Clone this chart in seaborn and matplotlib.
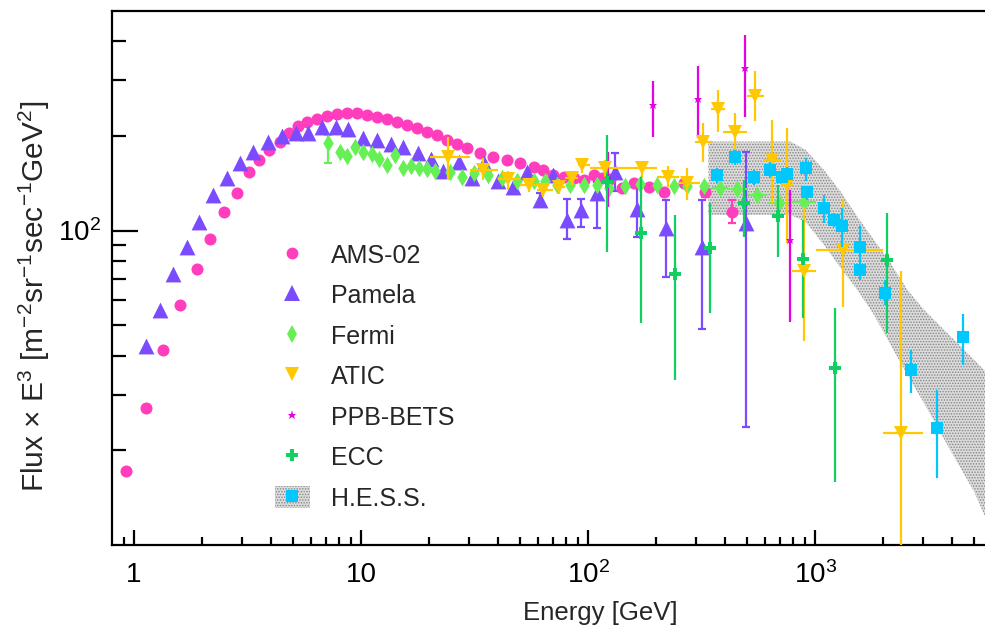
import numpy as np
import matplotlib
matplotlib.use("Agg")
import matplotlib.pyplot as plt
import seaborn as sns
from matplotlib.lines import Line2D
from matplotlib.patches import Patch

# ---------------- data (Energy [GeV], Flux x E^3) ----------------
ams_E = [0.92, 1.135, 1.343, 1.592, 1.887, 2.16, 2.50, 2.84, 3.22, 3.56,
         3.94, 4.39, 4.83, 5.29, 5.76, 6.38, 7.06, 7.81, 8.70, 9.57,
         10.6, 11.7, 13.0, 14.4, 15.9, 17.6, 19.5, 21.6, 23.9, 26.5,
         29.2, 33.5, 38.3, 43.9, 50.2, 57.5, 63.6, 70.4, 78.0, 86.3,
         95.5, 105.8, 115.2, 125.3, 141.1, 158.7, 184.9, 216.8, 263.8, 328.6,
         430.7]
ams_V = [17.2, 27.3, 41.8, 58.0, 75.4, 94.3, 114.4, 131.5, 154, 167.4,
         180.9, 191.8, 204.0, 215.2, 221.1, 227, 231.6, 234.4, 237.1, 236,
         232.7, 229.4, 226, 221.6, 217.3, 212.1, 205.9, 201.4, 194.1, 188.5,
         182.8, 176.2, 171.8, 167.8, 163.7, 159.7, 156.0, 150.3, 148.4, 146.7,
         144.9, 150.3, 146.7, 145.7, 136.4, 142.1, 138.0, 133.0, 141.5, 132.1,
         114.9]
ams_hi = list(ams_V[:-2]) + [137.0, 125.2]
ams_lo = list(ams_V[:-2]) + [127.4, 105.6]

pam_E = [1.127, 1.30, 1.487, 1.704, 1.936, 2.233, 2.557, 2.927, 3.35, 3.90,
         4.47, 5.17, 5.86, 6.71, 7.76, 8.79, 10.25, 11.73, 13.56, 15.37,
         17.89, 20.4, 23.07, 27.1, 30.8, 34.8, 40.3, 46.9, 53.8, 61.5,
         70.4, 80.7, 93.3, 109.5, 131.8, 164.8, 221, 318.6, 496]
pam_V = [42.8, 56.0, 72.8, 88.9, 106.8, 129.9, 146.7, 164.5, 178.3, 191.8,
         200.4, 204.0, 204.0, 214.1, 214.1, 210.5, 196.7, 194.3, 188.6, 184.9,
         177.0, 168.2, 155.1, 165.7, 146.7, 164.5, 143.2, 138.0, 154, 125.2,
         150.3, 108.1, 116.4, 131.5, 153.7, 117.2, 101.8, 88.9, 105.6]
pam_hi = list(pam_V[:29]) + [131.6, 150.3, 126.1, 126.1, 143.1, 176.6, 139.8, 125.2, 125.2, 178.3]
pam_lo = list(pam_V[:29]) + [120.5, 150.3, 94.1, 102.8, 102.0, 134.0, 95.7, 71.3, 48.6, 23.8]

fermi_E = [7.18, 8.08, 8.70, 9.41, 10.24, 11.15, 12.04, 13.06, 14.12, 15.27,
           16.57, 18.07, 19.6, 21.2, 24.7, 27.8, 31.3, 36.4, 41.7, 48.6,
           57.5, 64.8, 72.9, 83.5, 95.5, 109.5, 123.1, 145.8, 169.8, 201.3,
           238.4, 273, 323, 382.8, 453, 555, 692, 891]
fermi_V = [190.4, 178.3, 172.8, 184.9, 178.3, 175.4, 168.6, 161.8, 173.2, 157.9,
           159.8, 157.9, 156.7, 155.1, 154.0, 148.4, 152.2, 150.3, 146.7, 143.2,
           143.2, 143.2, 139.7, 139.7, 139.7, 139.7, 136.4, 138.7, 140.8, 139.7,
           138.7, 138.7, 138.7, 136.4, 135.4, 129.9, 122.2, 122.8]
fermi_first_hi = 201.5
fermi_first_lo = 163.8
fermi_tail_Emin = [351, 415, 502, 614, 794]
fermi_tail_Emax = [415, 502, 614, 794, 1004]

atic_E = [24.2, 34.4, 44.6, 54.7, 63.6, 74.1, 84.9, 94.0, 119.1, 172.9,
          224.1, 272.9, 322, 372.4, 445.7, 546, 647, 753, 891, 1330, 2380]
atic_V = [171.9, 155.6, 146.0, 139.7, 134.7, 138.0, 146.7, 161.8, 157.9, 157.9,
          148.4, 142.1, 191.8, 243.2, 206.4, 268.1, 167.8, 139.7, 74.1, 86.8, 22.7]
atic_hi = [199.0, 169.9, 154.8, 147.1, 141.8, 145.3, 154.5, 167.8, 167.8, 165.7,
           160.6, 157.9, 219.5, 280.1, 236.1, 322.6, 224.8, 211.6, 119.2, 125.2, 74.5]
atic_lo = [146.0, 144.9, 134.7, 132.7, 127.9, 131.0, 139.3, 152.5, 148.4, 146.7,
           138.0, 125.2, 165.7, 206.4, 174.0, 223.7, 122.2, 91.2, 44.4, 57.3, 1.0]
atic_Emin = [20.1, 30.2, 40.2, 50.2, 59.7, 70.2, 79.3, 90.5, 102.3, 148.5,
             201.3, 250.6, 297, 348.3, 394.6, 501.8, 592, 704, 793, 1004, 1996]
atic_Emax = [30.2, 40.2, 50.2, 59.7, 70.2, 79.3, 90.5, 102.3, 148.5, 201.3,
             250.6, 312.4, 351.8, 402.7, 501.8, 598.4, 704, 795, 1004, 1996, 2986]

ppb_E = [121.9, 193.9, 306, 489.8, 773]
ppb_V = [146.7, 251, 262.8, 328.3, 93.4]
ppb_hi = [178.3, 299.8, 333.9, 418.8, 134.5]
ppb_lo = [119.2, 198.1, 197.1, 230.3, 51.0]

ecc_E = [121.2, 171.7, 242.3, 345.7, 485, 684.6, 886, 1218, 2064]
ecc_V = [142.8, 98.3, 72.8, 87.9, 122.2, 111.4, 81.1, 36.5, 80.7]
ecc_hi = [201.5, 148.4, 112.2, 122.2, 144.9, 139.7, 108.1, 56.7, 113.6]
ecc_lo = [85.6, 50.8, 33.5, 54.6, 95.7, 82.3, 52.7, 15.9, 47.2]

hess_E = [370.1, 443.5, 536.6, 631, 712.4, 755.6, 907.5, 923, 1093, 1209,
          1308, 1578, 1578, 2023, 2634, 3430, 4479]
hess_V = [150.3, 171.9, 148.4, 155.9, 148.4, 151.4, 157.9, 132.1, 117.8, 108.1,
          103.5, 88.8, 75.0, 63.5, 36.1, 23.5, 45.8]
hess_hi = [157.9, 180.5, 155.9, 165.7, 155.0, 159.0, 169.9, 138.0, 129.9, 113.5,
           117.8, 103.0, 80.7, 69.7, 41.7, 31.2, 54.4]
hess_lo = [141.5, 161.8, 139.7, 146.7, 142.1, 144.2, 143.2, 125.2, 105.6, 102.9,
           88.9, 80.7, 69.7, 57.8, 30.4, 16.3, 37.4]

band_E = [338.8, 778.9, 907.5, 1092.6, 1294, 1533, 1815, 2150, 2547, 3016,
          3573, 4231, 5012, 5641]
band_hi = [191.8, 191.8, 180.5, 155.9, 133.0, 110.8, 93.4, 78.8, 64.8, 56.0,
           49.5, 43.9, 38.8, 35.6]
band_lo = [112.2, 112.2, 106.6, 90.1, 76.1, 64.8, 54.0, 43.3, 34.8, 28.3,
           22.7, 18.3, 14.8, 12.2]

x_ticks = [1, 10, 100, 1000]
x_ticklabels = ['1', '10', '$10^{2}$', '$10^{3}$']
x_minor = [0.9, 2, 3, 4, 5, 6, 7, 8, 9, 20, 30, 40, 50, 60, 70, 80, 90,
           200, 300, 400, 500, 600, 700, 800, 900, 2000, 3000, 4000, 5000]
y_ticks = [100]
y_ticklabels = ['$10^{2}$']
y_minor = [20, 30, 40, 50, 60, 70, 80, 90, 200, 300, 400]

labels = ['AMS-02', 'Pamela', 'Fermi', 'ATIC', 'PPB-BETS', 'ECC', 'H.E.S.S.']

# ---------------- style ----------------
sns.set_theme(style='ticks')
plt.rcParams['font.family'] = ['Liberation Sans', 'DejaVu Sans']
plt.rcParams['mathtext.fontset'] = 'custom'
plt.rcParams['mathtext.rm'] = 'Liberation Sans'
plt.rcParams['mathtext.it'] = 'Liberation Sans:italic'
plt.rcParams['mathtext.default'] = 'regular'
plt.rcParams['hatch.color'] = '#858585'
plt.rcParams['hatch.linewidth'] = 0.7

c_ams = '#ff3dbd'
c_pam = '#7b4cff'
c_fermi = '#66f055'
c_atic = '#ffc800'
c_ppb = '#e600e6'
c_ecc = '#0fd060'
c_hess = '#00c8ff'
c_band_face = '#dcdcdc'

fig = plt.figure(figsize=(9.85, 6.37), dpi=100)
ax = fig.add_axes([112/985, 1-545/637, (985-112)/985, (545-10.7)/637])
ax.set_xscale('log')
ax.set_yscale('log')

eb = dict(ls='none', elinewidth=1.6, capsize=3.2, capthick=1.6)

def yerr(v, lo, hi):
    v = np.asarray(v, float)
    return [v - np.asarray(lo, float), np.asarray(hi, float) - v]

# HESS band
ax.fill_between(band_E, band_lo, band_hi, facecolor=c_band_face, edgecolor='#858585',
                hatch='......', linewidth=0, zorder=1)

# AMS-02
ax.errorbar(ams_E[-2:], ams_V[-2:], yerr=yerr(ams_V[-2:], ams_lo[-2:], ams_hi[-2:]),
            color=c_ams, zorder=2, **eb)
sns.scatterplot(x=ams_E, y=ams_V, ax=ax, color=c_ams, marker='o', s=75,
                linewidth=0, zorder=3)

# Pamela
pE = np.array(pam_E); pV = np.array(pam_V); ph = np.array(pam_hi); pl = np.array(pam_lo)
m = ph > pV
ax.errorbar(pE[m], pV[m], yerr=yerr(pV[m], pl[m], ph[m]), color=c_pam, zorder=2, **eb)
sns.scatterplot(x=pam_E, y=pam_V, ax=ax, color=c_pam, marker='^', s=130,
                linewidth=0, zorder=3)

# Fermi
ax.errorbar([fermi_E[0]], [fermi_V[0]],
            yerr=[[fermi_V[0]-fermi_first_lo], [fermi_first_hi-fermi_V[0]]],
            color=c_fermi, zorder=2, **eb)
fE_tail = np.array(fermi_E[-5:]); fV_tail = np.array(fermi_V[-5:])
ax.errorbar(fE_tail, fV_tail,
            xerr=[fE_tail-np.array(fermi_tail_Emin), np.array(fermi_tail_Emax)-fE_tail],
            color=c_fermi, ls='none', elinewidth=1.5, capsize=0, zorder=2)
sns.scatterplot(x=fermi_E, y=fermi_V, ax=ax, color=c_fermi, marker='d', s=80,
                linewidth=0, zorder=3)

# ATIC
aE = np.array(atic_E)
ax.errorbar(atic_E, atic_V, yerr=yerr(atic_V, atic_lo, atic_hi),
            xerr=[aE-np.array(atic_Emin), np.array(atic_Emax)-aE],
            color=c_atic, marker='v', ms=10, mew=0, zorder=4, **eb)

# PPB-BETS
ax.errorbar(ppb_E, ppb_V, yerr=yerr(ppb_V, ppb_lo, ppb_hi), color=c_ppb,
            marker='*', ms=6.5, mew=0, zorder=4, **eb)

# ECC
ax.errorbar(ecc_E, ecc_V, yerr=yerr(ecc_V, ecc_lo, ecc_hi), color=c_ecc,
            marker='P', ms=8, mew=0, zorder=4, **eb)

# H.E.S.S.
ax.errorbar(hess_E, hess_V, yerr=yerr(hess_V, hess_lo, hess_hi), color=c_hess,
            marker='s', ms=8, mew=0, zorder=5, **eb)

# ---------------- axes ----------------
ax.set_xticks(x_ticks)
ax.set_xticklabels(x_ticklabels)
ax.set_xticks(x_minor, minor=True)
ax.set_yticks(y_ticks)
ax.set_yticklabels(y_ticklabels)
ax.set_yticks(y_minor, minor=True)
ax.yaxis.set_minor_formatter(matplotlib.ticker.NullFormatter())
ax.xaxis.set_minor_formatter(matplotlib.ticker.NullFormatter())
ax.set_xlim(0.8, 5600)
ax.set_ylim(10, 500)

ax.tick_params(axis='both', which='both', direction='in', top=False, right=False,
               width=1.6, colors='black', labelsize=20)
ax.tick_params(axis='x', which='major', length=11, pad=12)
ax.tick_params(axis='x', which='minor', length=5.5)
ax.tick_params(axis='y', which='major', length=19, pad=8)
ax.tick_params(axis='y', which='minor', length=10)

for s in ['left', 'bottom', 'top']:
    ax.spines[s].set_linewidth(1.6)
    ax.spines[s].set_color('black')
ax.spines['right'].set_visible(False)

ax.set_xlabel('Energy [GeV]', fontsize=18.5)
ax.xaxis.set_label_coords((600-112)/873, -0.105)
ax.set_ylabel(r'Flux $\times$ E$^{3}$ [m$^{-2}$sr$^{-1}$sec$^{-1}$GeV$^{2}$]', fontsize=21.5)
ax.yaxis.set_label_coords((52-112)/873, 0.465)

# ---------------- legend ----------------
h_ams = Line2D([], [], ls='none', marker='o', color=c_ams, ms=8.5, mew=0)
h_pam = Line2D([], [], ls='none', marker='^', color=c_pam, ms=11, mew=0)
h_fer = Line2D([], [], ls='none', marker='d', color=c_fermi, ms=9, mew=0)
h_atic = Line2D([], [], ls='none', marker='v', color=c_atic, ms=9.5, mew=0)
h_ppb = Line2D([], [], ls='none', marker='*', color=c_ppb, ms=6.5, mew=0)
h_ecc = Line2D([], [], ls='none', marker='P', color=c_ecc, ms=8, mew=0)
h_band = Patch(facecolor=c_band_face, edgecolor='#858585', hatch='......', linewidth=0)
h_hess = Line2D([], [], ls='none', marker='s', color=c_hess, ms=8, mew=0)
leg = ax.legend([h_ams, h_pam, h_fer, h_atic, h_ppb, h_ecc, (h_band, h_hess)], labels,
                loc='upper left', bbox_to_anchor=((262-112)/873, (545-230)/535),
                frameon=False, fontsize=18, labelspacing=0.63, handlelength=1.4,
                handletextpad=0.85, borderpad=0.0, handleheight=1.0)

fig.savefig('out.png', dpi=100)
